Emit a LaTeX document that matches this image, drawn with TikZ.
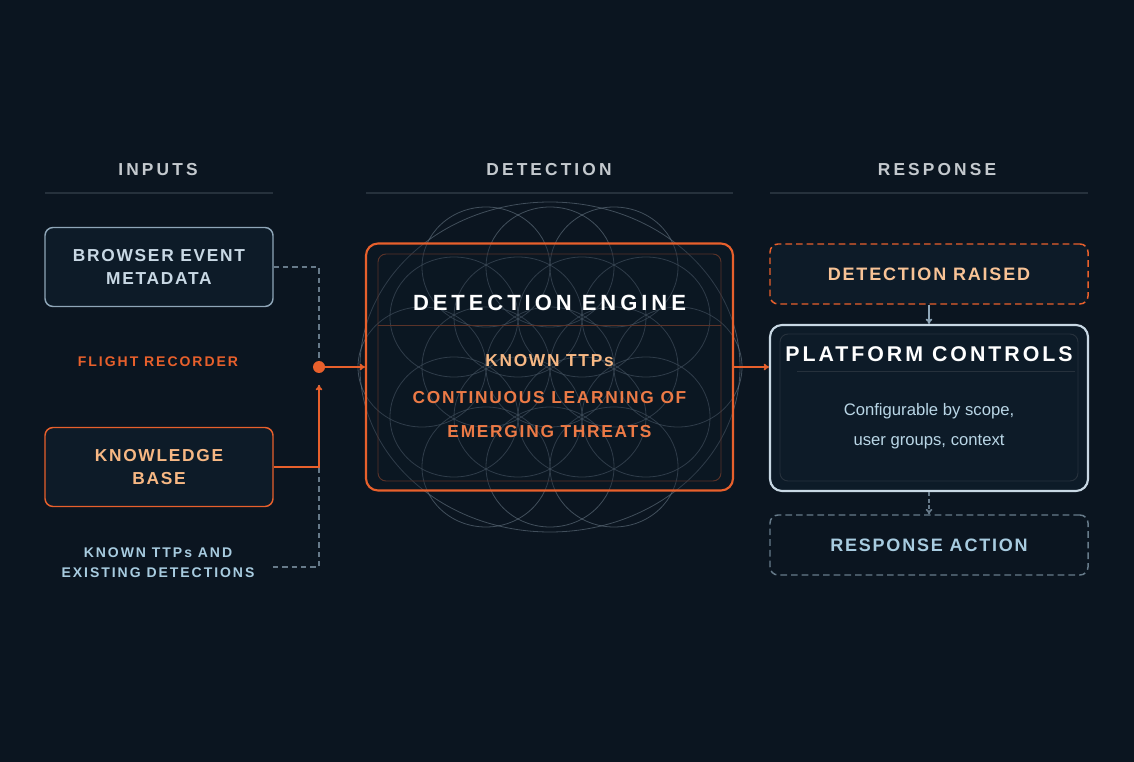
\documentclass[tikz,border=0pt]{standalone}
\usepackage{fontspec}
\setmainfont{Liberation Sans}
\newfontfamily\capsfont[LetterSpace=10]{Liberation Sans}
\newfontfamily\widecaps[LetterSpace=18]{Liberation Sans}
\newfontfamily\midcaps[LetterSpace=14]{Liberation Sans}
\usetikzlibrary{arrows.meta}
\definecolor{bgdark}{HTML}{0B1520}
\definecolor{boxfill}{HTML}{0D1B28}
\definecolor{accent}{HTML}{E8602C}
\definecolor{peach}{HTML}{F7B884}
\definecolor{steel}{HTML}{8FA6B8}
\definecolor{ice}{HTML}{C8D8E4}
\definecolor{mist}{HTML}{A8CCE0}
\definecolor{headgray}{HTML}{C4C9CE}
\definecolor{rulegray}{HTML}{26313C}
\definecolor{petal}{HTML}{6E7E8C}

\tikzset{
  heading/.style={font=\widecaps\bfseries\fontsize{13}{14}\selectfont, text=headgray},
  panel/.style={rounded corners=6pt, fill=boxfill, line width=1.1pt, align=center},
  tag/.style={font=\midcaps\bfseries\fontsize{10.5}{15}\selectfont, align=center},
  link/.style={line width=1.3pt, -{To[length=4pt,width=5pt]}},
}

\begin{document}
\begin{tikzpicture}[x=0.75pt,y=-0.75pt]
    \fill[bgdark] (0,0) rectangle (1134,762);
    \useasboundingbox (0,0) rectangle (1134,762);
    % column headings
    \node[heading] (hIn) at (158,170) {INPUTS};
    \node[heading] (hDet) at (549,170) {DETECTION};
    \node[heading] (hRes) at (937,170) {RESPONSE};
    \draw[rulegray, line width=1pt] (45,193) -- (273,193) (366,193) -- (733,193) (770,193) -- (1088,193);
    %
    % flower pattern behind the engine
    \begin{scope}[shift={(550,367)}, petal, opacity=0.55, line width=0.6pt]
      \foreach \i in {-2,...,2} {
        \foreach \j in {-2,...,2} {
          \pgfmathtruncatemacro{\dd}{\i*\i+\i*\j+\j*\j}
          \ifnum\dd<5
            \draw ({64*(\i+0.5*\j)},{50*\j}) ellipse [x radius=64, y radius=60];
          \fi
        }
      }
      \draw (0,0) ellipse [x radius=190, y radius=165];
    \end{scope}
    %
    % inputs
    \node[panel, draw=steel, minimum width=228*0.75pt, minimum height=79*0.75pt,
      font=\capsfont\bfseries\fontsize{13}{17}\selectfont, text=ice] (browser) at (159,267) {BROWSER EVENT\\METADATA};
    \node[tag, text=accent] (recorder) at (158,362) {FLIGHT RECORDER};
    \node[panel, draw=accent, minimum width=228*0.75pt, minimum height=79*0.75pt,
      font=\capsfont\bfseries\fontsize{13}{17}\selectfont, text=peach] (knowledge) at (159,467) {KNOWLEDGE\\BASE};
    \node[tag, text=mist] (ttps) at (158,562.5) {KNOWN TTPs AND\\EXISTING DETECTIONS};
    %
    % engine
    \node[rounded corners=9pt, draw=accent, line width=1.6pt, fill=boxfill, fill opacity=0.35,
      minimum width=367*0.75pt, minimum height=247*0.75pt] (engine) at (549.5,367) {};
    \draw[accent!35!boxfill, line width=0.7pt, rounded corners=6pt] (378,254) rectangle (721,481);
    \draw[accent!35!boxfill, line width=0.7pt] (378,325) -- (721,325);
    \node[font=\widecaps\bfseries\fontsize{16.5}{20}\selectfont, text=white] (engTitle) at (549.5,303) {DETECTION ENGINE};
    \node[font=\capsfont\bfseries\fontsize{13}{25}\selectfont, text=peach] (engKnown) at (549.5,361) {KNOWN TTPs};
    \node[font=\capsfont\bfseries\fontsize{13}{25}\selectfont, text=accent!70!peach, align=center] (engLearn) at (549.5,414.5) {CONTINUOUS LEARNING OF\\EMERGING THREATS};
    %
    % response
    \node[panel, draw=accent, dashed, dash pattern=on 5pt off 3pt, minimum width=318*0.75pt, minimum height=60*0.75pt,
      font=\capsfont\bfseries\fontsize{13.5}{17}\selectfont, text=peach!85!white] (raised) at (929,274) {DETECTION RAISED};
    \node[panel, draw=ice, line width=1.6pt, rounded corners=9pt, minimum width=318*0.75pt, minimum height=166*0.75pt] (platform) at (929,408) {};
    \draw[rulegray, line width=0.7pt, rounded corners=6pt] (780,334) rectangle (1078,481);
    \draw[rulegray, line width=0.7pt] (797,371) -- (1075,371);
    \node[font=\midcaps\bfseries\fontsize{16}{20}\selectfont, text=white] (platTitle) at (929,354) {PLATFORM CONTROLS};
    \node[font=\fontsize{12.5}{22.5}\selectfont, text=mist!80!white, align=center] (platText) at (929,426) {Configurable by scope,\\user groups, context};
    \node[panel, draw=steel!70!bgdark, dashed, dash pattern=on 5pt off 3pt, fill=bgdark, minimum width=318*0.75pt, minimum height=60*0.75pt,
      font=\capsfont\bfseries\fontsize{13.5}{17}\selectfont, text=mist] (action) at (929,545) {RESPONSE ACTION};
    %
    % connectors
    \coordinate (hub) at (319,367);
    \coordinate (hubIn) at (319,385);
    \coordinate (ttpsEnd) at (273,567);
    \draw[steel!70!bgdark, line width=0.9pt, dashed, dash pattern=on 4pt off 3pt] (browser.east) -| (hub);
    \draw[steel!70!bgdark, line width=0.9pt, dashed, dash pattern=on 4pt off 3pt] (ttpsEnd) -| (hubIn);
    \draw[link, accent] (knowledge.east) -| (hubIn);
    \fill[accent] (hub) circle (6);
    \draw[link, accent] (hub) -- (engine.west);
    \draw[link, accent] (engine.east) -- (engine.east -| platform.west);
    \draw[link, steel] (raised.south) -- (platform.north);
    \draw[link, steel!70!bgdark, dashed, dash pattern=on 3pt off 2pt] (platform.south) -- (action.north);
\end{tikzpicture}
\end{document}
